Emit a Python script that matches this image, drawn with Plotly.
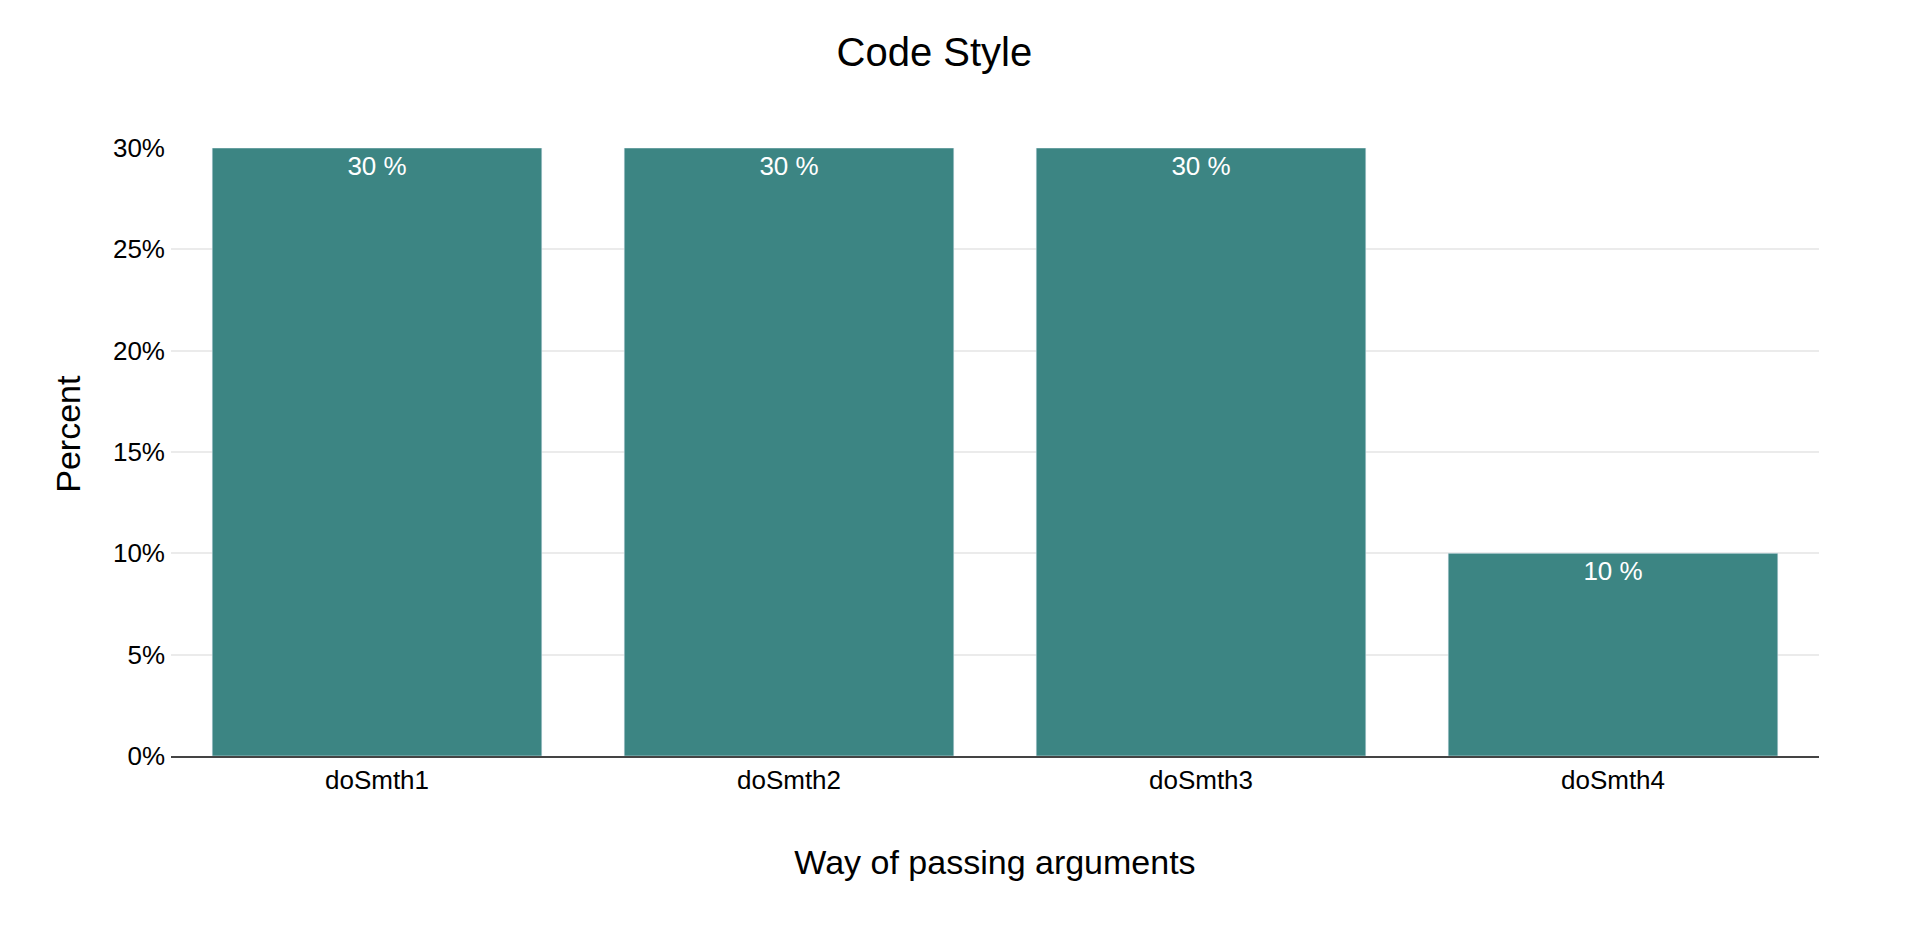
import plotly.graph_objects as go

# data
methods = ["doSmth1", "doSmth2", "doSmth3", "doSmth4"]
percent = [30, 30, 30, 10]
labels = ["30 %", "30 %", "30 %", "10 %"]

bar_color = "#3c8583"

fig = go.Figure()
fig.add_trace(go.Bar(
    x=methods,
    y=percent,
    text=labels,
    marker_color=bar_color,
    texttemplate="%{text}",
    textposition="inside",
    insidetextanchor="end",
    textfont=dict(color="white", size=26),
    showlegend=False,
))

fig.update_layout(
    width=1910,
    height=942,
    font=dict(family="Liberation Sans, Arial, sans-serif", size=26, color="black"),
    title=dict(text="Code Style", x=0.485, xanchor="center", y=0.9538, yanchor="middle",
               font=dict(size=40)),
    plot_bgcolor="white",
    paper_bgcolor="white",
    margin=dict(l=163, r=99, t=140, b=194),
    bargap=0.2,
    # y title placed by hand, it sits a little above the middle of the axis
    annotations=[dict(
        text="Percent", textangle=-90, font=dict(size=34),
        xref="paper", yref="paper", x=-0.0625, y=0.53,
        xanchor="center", yanchor="middle", showarrow=False,
    )],
)
fig.update_xaxes(
    title=dict(text="Way of passing arguments", font=dict(size=34), standoff=56),
    showline=True, linecolor="#444", linewidth=2,
    ticks="", showgrid=False,
)
fig.update_yaxes(
    range=[0, 30], dtick=5, ticksuffix="%",
    showgrid=True, gridcolor="#ebebeb", gridwidth=2,
    zeroline=False, ticks="", ticklabelstandoff=5,
)

fig.write_html("out.html")
